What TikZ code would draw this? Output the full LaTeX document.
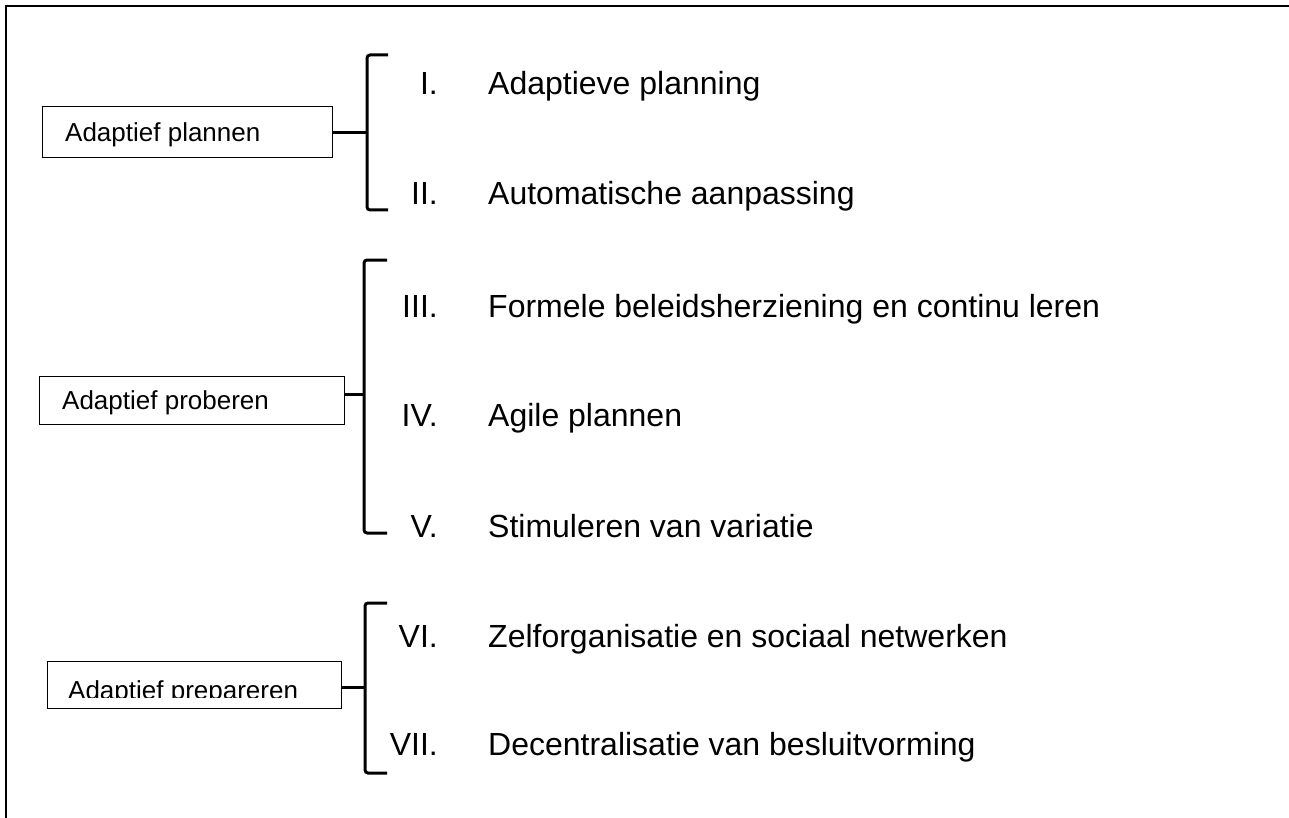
\documentclass[tikz,border=0pt]{standalone}
\usepackage{fontspec}
\setmainfont{Liberation Sans}
\begin{document}
\begin{tikzpicture}[x=1pt,y=-1pt]

\def\numx{438}
\def\labx{488}
\def\hookx{388}

\tikzset{box/.style = {draw, line width=1.2pt, rectangle, inner sep=0pt, anchor=north west}}
\tikzset{boxtext/.style = {anchor=base west, inner sep=0pt, font=\fontsize{26}{31}\selectfont}}
\tikzset{num/.style = {anchor=base east, inner sep=0pt, font=\fontsize{32}{38}\selectfont}}
\tikzset{item/.style = {anchor=base west, inner sep=0pt, font=\fontsize{32}{38}\selectfont}}
\tikzset{brace/.style = {line width=3pt, rounded corners=3pt}}

\useasboundingbox (0,0) rectangle (1289,818);
% frame, runs off the page at right and bottom
\draw[line width=2pt] (6,840) -- (6,6) -- (1310,6);

% boxes
\node[box, minimum width=290pt, minimum height=51pt] (plan) at (42,106) {};
\node[boxtext] (plant) at (65,142) {Adaptief plannen};

\node[box, minimum width=305pt, minimum height=48pt] (prob) at (39,376) {};
\node[boxtext] (probt) at (62,409) {Adaptief proberen};

\node[box, minimum width=294pt, minimum height=47pt] (prep) at (47,661) {};
\begin{scope}
\clip (47,661) rectangle (341,697);
\node[boxtext] (prept) at (68,699) {Adaptief prepareren};
\end{scope}

% brackets
\coordinate (b1) at (367,133);
\coordinate (b2) at (364,394);
\coordinate (b3) at (365,687);

\draw[brace] (\hookx,55) -- (367,55) -- (367,210) -- (\hookx,210);
\draw[brace] (b1 -| plan.east) -- (b1);
\draw[brace] (387,260) -- (364,260) -- (364,533) -- (387,533);
\draw[brace] (b2 -| prob.east) -- (b2);
\draw[brace] (387,603) -- (365,603) -- (365,773) -- (387,773);
\draw[brace] (b3 -| prep.east) -- (b3);

% items
\foreach \n/\t/\y [count=\i] in {I./Adaptieve planning/95, II./Automatische aanpassing/205, III./Formele beleidsherziening en continu leren/317, IV./Agile plannen/426, V./Stimuleren van variatie/537, VI./Zelforganisatie en sociaal netwerken/647, VII./Decentralisatie van besluitvorming/755}
{
\node[num] (num\i) at (\numx,\y) {\n};
\node[item] (item\i) at (\labx,\y) {\t};
}

\end{tikzpicture}
\end{document}
